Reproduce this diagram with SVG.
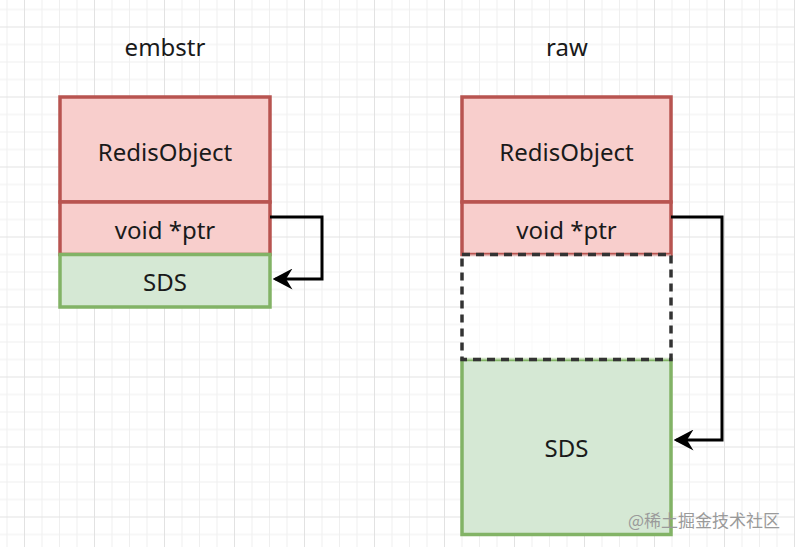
<svg xmlns="http://www.w3.org/2000/svg" width="795" height="547" viewBox="0 0 795 547">
  <style>
    .lbl { font-family: "Noto Sans", "Open Sans", "Liberation Sans", sans-serif; font-size: 24px; fill: #1a1a1a; text-anchor: middle; }
    .red { fill: #f8cecc; stroke: #b85450; stroke-width: 3.5; }
    .green { fill: #d5e8d4; stroke: #82b366; stroke-width: 3.5; }
    .dash { fill: #ffffff; fill-opacity: 0.6; stroke: #333333; stroke-width: 3.5; stroke-dasharray: 8 6; }
    .conn { fill: none; stroke: #000000; stroke-width: 3; stroke-linejoin: miter; }
    .wm { font-family: "Noto Sans CJK SC", "Noto Sans", sans-serif; font-size: 17px; fill: #9a9a9a; }
  </style>
  <defs>
    <pattern id="grid" patternUnits="userSpaceOnUse" x="24" y="96.5" width="70" height="70">
      <path d="M18 0V70M35.5 0V70M53 0V70M0 18H70M0 35.5H70M0 53H70" stroke="#efefef" stroke-width="1" fill="none"/>
      <path d="M0.5 0V70M0 0.5H70" stroke="#e2e2e2" stroke-width="1" fill="none"/>
    </pattern>
    <marker id="arrow" viewBox="0 0 20 21" refX="17" refY="10.5" markerWidth="20" markerHeight="21" markerUnits="userSpaceOnUse" orient="auto">
      <path d="M20 10.5L0 0L6.5 10.5L0 21Z" fill="#000000"/>
    </marker>
  </defs>
  <rect x="0" y="0" width="795" height="547" fill="#ffffff"/>
  <rect x="0" y="0" width="795" height="547" fill="url(#grid)"/>

  <text class="lbl" x="165" y="56">embstr</text>
  <text class="lbl" x="567" y="56">raw</text>

  <g id="embstr-redisobject">
    <rect class="red" x="60" y="97" width="210" height="105"/>
    <text class="lbl" x="165" y="161">RedisObject</text>
  </g>
  <g id="embstr-ptr">
    <rect class="red" x="60" y="202" width="210" height="52.5"/>
    <text class="lbl" x="165" y="239">void *ptr</text>
  </g>
  <g id="embstr-sds">
    <rect class="green" x="60" y="254.5" width="210" height="52.5"/>
    <text class="lbl" x="165" y="291">SDS</text>
  </g>

  <g id="raw-redisobject">
    <rect class="red" x="462" y="97" width="209" height="105"/>
    <text class="lbl" x="566.5" y="161">RedisObject</text>
  </g>
  <g id="raw-ptr">
    <rect class="red" x="462" y="202" width="209" height="52.5"/>
    <text class="lbl" x="566.5" y="239">void *ptr</text>
  </g>
  <g id="raw-sds">
    <rect class="green" x="462" y="359.5" width="209" height="175"/>
    <text class="lbl" x="566.5" y="457">SDS</text>
  </g>
  <g id="raw-gap">
    <rect class="dash" x="462" y="254.5" width="209" height="105"/>
  </g>

  <g id="connectors">
    <path class="conn" d="M270 217H322V279H275.5" marker-end="url(#arrow)"/>
    <path class="conn" d="M671 217H722V440H676.5" marker-end="url(#arrow)"/>
  </g>

  <text class="wm" x="628" y="527">@稀土掘金技术社区</text>
</svg>
